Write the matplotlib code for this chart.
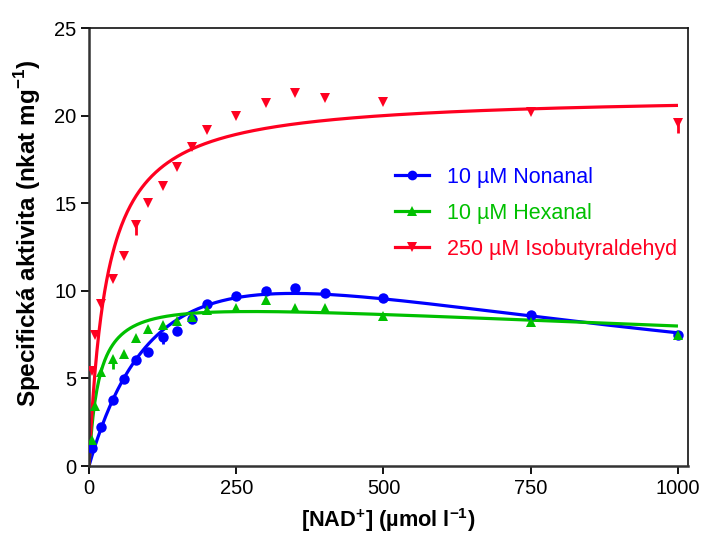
import numpy as np
import matplotlib
matplotlib.use("Agg")
import matplotlib.pyplot as plt
from matplotlib.lines import Line2D

plt.rcParams['font.family'] = ['Liberation Sans', 'DejaVu Sans']
plt.rcParams['mathtext.fontset'] = 'custom'
plt.rcParams['mathtext.rm'] = 'Liberation Sans'
plt.rcParams['mathtext.bf'] = 'Liberation Sans:bold'

# NAD+ concentrations (µmol/l) and specific activities (nkat/mg)
nonanal_x = [5, 20, 40, 60, 80, 100, 125, 150, 175, 200, 250, 300, 350, 400, 500, 750, 1000]
nonanal_y = [1.05, 2.25, 3.75, 4.95, 6.05, 6.5, 7.35, 7.7, 8.4, 9.25, 9.7, 10.0, 10.15, 9.85, 9.6, 8.6, 7.45]
nonanal_err = [0, 0, 0, 0, 0, 0, 0.4, 0, 0, 0, 0, 0, 0, 0, 0, 0, 0]

hexanal_x = [5, 10, 20, 40, 60, 80, 100, 125, 150, 175, 200, 250, 300, 350, 400, 500, 750, 1000]
hexanal_y = [1.5, 3.4, 5.35, 6.1, 6.4, 7.3, 7.8, 8.05, 8.3, 8.5, 8.9, 9.0, 9.45, 9.0, 9.0, 8.55, 8.2, 7.45]
hexanal_err = [0, 0, 0, 0.55, 0, 0, 0, 0, 0, 0, 0, 0, 0, 0, 0, 0, 0, 0]

isobut_x = [5, 10, 20, 40, 60, 80, 100, 125, 150, 175, 200, 250, 300, 350, 400, 500, 750, 1000]
isobut_y = [5.4, 7.5, 9.25, 10.7, 12.0, 13.75, 15.0, 16.0, 17.05, 18.2, 19.2, 20.0, 20.7, 21.3, 21.0, 20.8, 20.2, 19.6]
isobut_err = [0, 0, 0, 0, 0, 0.55, 0, 0, 0, 0, 0, 0, 0, 0, 0, 0, 0, 0.6]

# Kinetic fit parameters: v = Vmax*S / (Km + S + S^2/Ki)
nonanal_fit = dict(vmax=18.95, km=160.0, ki=750.0)
hexanal_fit = dict(vmax=9.9, km=17.0, ki=4500.0)
isobut_fit = dict(vmax=21.2, km=30.0, ki=np.inf)

labels = ["10 µM Nonanal", "10 µM Hexanal", "250 µM Isobutyraldehyd"]
colors = ["#0000ff", "#00c000", "#ff0020"]
markers = ["o", "^", "v"]


def rate(s, vmax, km, ki):
    return vmax * s / (km + s + s ** 2 / ki)


fig = plt.figure(figsize=(7.02, 5.39), dpi=100)
ax = fig.add_axes([89 / 702, 1 - 466 / 539, (688 - 89) / 702, (466 - 28) / 539])

s = np.linspace(0, 1000, 600)
series = [
    (nonanal_x, nonanal_y, nonanal_err, nonanal_fit),
    (hexanal_x, hexanal_y, hexanal_err, hexanal_fit),
    (isobut_x, isobut_y, isobut_err, isobut_fit),
]
msizes = [7.5, 7.0, 7.0]
for (x, y, e, fit), c, m, ms in zip(series, colors, markers, msizes):
    ax.plot(s, rate(s, **fit), color=c, lw=2.3, zorder=2, solid_capstyle='butt')
    # error bars drawn below each mean only
    yerr = [e, [0] * len(e)]
    ax.errorbar(x, y, yerr=yerr, fmt=m, color=c, ms=ms, mew=0, capsize=4,
                elinewidth=2.0, capthick=2.2, zorder=3)

ax.set_xlim(0, 1017)
ax.set_ylim(0, 25)
ax.set_xticks([0, 250, 500, 750, 1000])
ax.set_yticks([0, 5, 10, 15, 20, 25])
ax.tick_params(axis='both', labelsize=14.5, length=6, width=1.3, direction='out', pad=3)

for side in ['left', 'bottom']:
    ax.spines[side].set_linewidth(1.8)
    ax.spines[side].set_color('#333333')
for side in ['top', 'right']:
    ax.spines[side].set_linewidth(1.2)
    ax.spines[side].set_color('#111111')

ax.set_xlabel(r"[NAD$^{\mathbf{+}}$] (µmol l$^{\mathbf{-1}}$)", fontsize=15.7, fontweight='bold', labelpad=6)
ax.set_ylabel(r"Specifická aktivita (nkat mg$^{\mathbf{-1}}$)", fontsize=17.5, fontweight='bold')
ax.yaxis.set_label_coords(-0.077, 0.53)

handles = [Line2D([], [], color=c, marker=m, lw=2.3, ms=7, mew=0)
           for c, m in zip(colors, markers)]
leg = ax.legend(handles, labels, loc='upper left',
                bbox_to_anchor=(386 / 702, 1 - 158 / 539), bbox_transform=fig.transFigure,
                frameon=False, fontsize=15.5, handlelength=1.6, handletextpad=0.85,
                labelspacing=0.7, borderaxespad=0)
for txt, c in zip(leg.get_texts(), colors):
    txt.set_color(c)

fig.savefig("out.png", dpi=100)
